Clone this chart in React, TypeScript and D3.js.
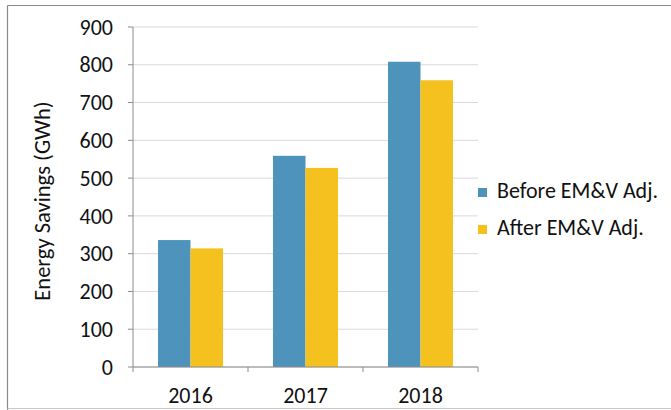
import React from "react";
import * as d3 from "d3";

const years = ["2016", "2017", "2018"];
const seriesNames = ["Before EM&V Adj.", "After EM&V Adj."];
const beforeValues = [336, 559, 808];
const afterValues = [314, 527, 759];
const yTicks = [0, 100, 200, 300, 400, 500, 600, 700, 800, 900];
const colors = ["#4d93bc", "#f4c11e"];
const yLabel = "Energy Savings (GWh)";

const W = 671;
const H = 410;
const FONT = "Carlito, Calibri, Lato, sans-serif";
const FS = 22;

export default function App() {
  const left = 133;
  const right = 478;
  const top = 27;
  const bottom = 367;

  const x0 = d3.scaleBand<string>().domain(years).range([left, right]).padding(0);
  const x1 = d3
    .scaleBand<string>()
    .domain(seriesNames)
    .range([0, x0.bandwidth()])
    .paddingInner(0)
    .paddingOuter(0.77);
  const y = d3.scaleLinear().domain([0, 900]).range([bottom, top]);

  const data = years.map((yr, i) => ({
    year: yr,
    values: [beforeValues[i], afterValues[i]],
  }));

  return (
    <svg
      width={W}
      height={H}
      style={{ position: "absolute", left: 0, top: 0, background: "#fff" }}
      fontFamily={FONT}
    >
      <line x1={7.5} x2={7.5} y1={5.5} y2={410} stroke="#8a8a8a" strokeWidth={1.2} />
      <line x1={7.5} x2={671} y1={5.5} y2={5.5} stroke="#8a8a8a" strokeWidth={1.2} />
      <line x1={7.5} x2={671} y1={408.5} y2={408.5} stroke="#c8c8c8" strokeWidth={1} />
      {yTicks.map((t) => (
        <line key={"g" + t} x1={left} x2={right} y1={y(t)} y2={y(t)} stroke="#d9d9d9" strokeWidth={1} />
      ))}
      {data.map((d) =>
        d.values.map((v, j) => (
          <rect
            key={d.year + j}
            x={(x0(d.year) as number) + (x1(seriesNames[j]) as number)}
            y={y(v)}
            width={x1.bandwidth()}
            height={y(0) - y(v)}
            fill={colors[j]}
          />
        ))
      )}
      <line x1={left} x2={left} y1={top} y2={bottom} stroke="#8c8c8c" strokeWidth={1} />
      {yTicks.map((t) => (
        <g key={"t" + t}>
          <line x1={left - 5} x2={left} y1={y(t)} y2={y(t)} stroke="#8c8c8c" />
          <text x={left - 20} y={y(t)} dy="0.35em" textAnchor="end" fontSize={FS} fill="#111">
            {t}
          </text>
        </g>
      ))}
      <line x1={left} x2={right} y1={bottom} y2={bottom} stroke="#8c8c8c" strokeWidth={1} />
      {[...years.map((yr) => x0(yr) as number), right].map((xx, i) => (
        <line key={"xt" + i} x1={xx} x2={xx} y1={bottom} y2={bottom + 5} stroke="#8c8c8c" />
      ))}
      {years.map((yr) => (
        <text
          key={"xl" + yr}
          x={(x0(yr) as number) + x0.bandwidth() / 2}
          y={403}
          textAnchor="middle"
          fontSize={FS}
          fill="#111"
        >
          {yr}
        </text>
      ))}
      <text
        transform={`translate(50, ${(top + bottom) / 2 + 4}) rotate(-90)`}
        textAnchor="middle"
        fontSize={FS + 0.5}
        fill="#111"
      >
        {yLabel}
      </text>
      {seriesNames.map((s, i) => (
        <g key={"lg" + i} transform={`translate(478, ${188 + i * 37})`}>
          <rect x={0} y={0} width={9} height={9} fill={colors[i]} />
          <text x={19} y={10} fontSize={FS} fill="#111">
            {s}
          </text>
        </g>
      ))}
    </svg>
  );
}
